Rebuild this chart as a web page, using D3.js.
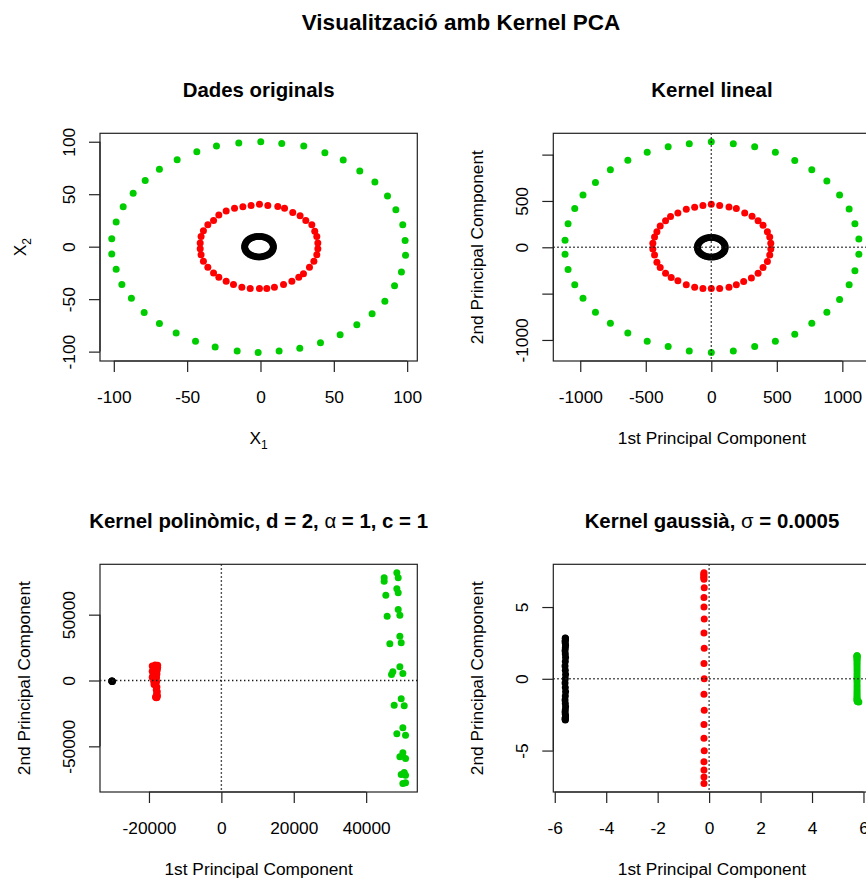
<!DOCTYPE html>
<html>
<head>
<meta charset="utf-8">
<script src="https://cdn.jsdelivr.net/npm/d3@7"></script>
<style>
  body { margin: 0; background: #fff; }
  svg { display: block; }
  text { font-family: "Liberation Sans", Arial, Helvetica, sans-serif; fill: #000; }
</style>
</head>
<body>
<svg id="chart" width="866" height="882"></svg>
<script>
// ---------- Data: original rings (x1, x2) ----------
const origGreen = [[0.2,100],[14.5,98.4],[29.5,95.9],[43.9,89.6],[56.4,82.6],[67.7,72.2],[78,61.7],[86.6,48.4],[92.3,35.1],[97,20.9],[98.6,6],[98.9,-8.2],[96.1,-24.1],[91.4,-37.3],[84.8,-51.9],[76.1,-63.9],[65.7,-74.4],[54.3,-83.9],[40.9,-91.5],[26.8,-96.8],[12.7,-99.4],[-1.6,-100.9],[-15.9,-99.4],[-30.9,-95.6],[-44.3,-90.2],[-57.5,-82.3],[-68.9,-73.1],[-79.3,-62.7],[-88,-49.1],[-94.5,-36.1],[-98.4,-21.5],[-101.4,-7],[-101.4,7.6],[-98.4,23.4],[-93.6,38],[-86.8,50.9],[-78.6,63],[-68.9,73.7],[-56.8,82.9],[-43.4,90.5],[-30,95.9],[-14.8,98.7]];
const origRed = [[-0.7,40.5],[5,39.2],[-6.4,39.2],[-12,38],[-17.7,36.7],[-23.4,33.9],[-28.4,30.1],[-32,25],[-35.9,20.9],[-38.9,15.2],[-40.5,9.8],[-41.1,3.5],[-41.1,-1.9],[-40.5,-7.6],[-38.9,-13.9],[-35.9,-19.6],[-32,-25],[-28.4,-29.1],[-23.4,-32.9],[-18.4,-36.1],[-12.7,-38.6],[-7,-39.9],[-0.7,-39.9],[4.3,-39.9],[9.5,-38.6],[15.7,-36.1],[21.4,-32.9],[26.1,-29.1],[29.3,-25.9],[33.4,-19.6],[36.4,-13.9],[38.4,-7.6],[39.1,-1.9],[39.1,3.5],[38.4,9.8],[37,14.6],[35,20.9],[30.9,25],[27,29.4],[22,32.6],[16.4,36.7],[11.8,38.3]];
const origBlack = [[8.8,0],[8.65,1.7],[8.21,3.35],[7.49,4.9],[6.51,6.3],[5.3,7.51],[3.9,8.49],[2.35,9.21],[0.7,9.65],[-1,9.8],[-2.7,9.65],[-4.35,9.21],[-5.9,8.49],[-7.3,7.51],[-8.51,6.3],[-9.49,4.9],[-10.21,3.35],[-10.65,1.7],[-10.8,0],[-10.65,-1.7],[-10.21,-3.35],[-9.49,-4.9],[-8.51,-6.3],[-7.3,-7.51],[-5.9,-8.49],[-4.35,-9.21],[-2.7,-9.65],[-1,-9.8],[0.7,-9.65],[2.35,-9.21],[3.9,-8.49],[5.3,-7.51],[6.51,-6.3],[7.49,-4.9],[8.21,-3.35],[8.65,-1.7]];

// ---------- Data: linear kernel projections (PC1, PC2) ----------
const linGreen = [[0,1139],[168,1118],[331,1086],[489,1025],[637,936],[767,836],[882,714],[979,564],[1052,414],[1096,254],[1126,89],[1126,-75],[1096,-254],[1052,-404],[979,-564],[882,-700],[767,-821],[637,-939],[489,-1014],[331,-1071],[168,-1118],[0,-1136],[-168,-1118],[-329,-1071],[-489,-1014],[-637,-925],[-770,-821],[-884,-700],[-979,-550],[-1042,-404],[-1093,-239],[-1116,-75],[-1116,75],[-1093,254],[-1042,418],[-979,564],[-884,700],[-770,836],[-637,939],[-489,1025],[-329,1086],[-168,1118]];
const linRed = [[0,464],[64,450],[-64,450],[-127,432],[-191,411],[-255,371],[-311,332],[-349,286],[-390,229],[-415,168],[-433,111],[-446,43],[-446,-18],[-433,-82],[-415,-161],[-390,-218],[-349,-279],[-306,-325],[-255,-361],[-191,-404],[-127,-432],[-64,-446],[0,-446],[64,-446],[135,-432],[191,-404],[247,-368],[306,-332],[357,-279],[395,-218],[428,-154],[446,-82],[454,-18],[454,43],[446,111],[428,168],[395,239],[357,286],[311,336],[255,371],[191,418],[135,436]];
const linBlack = [[106,0],[104.4,18.4],[99.6,36.3],[91.8,53],[81.2,68.1],[68.1,81.2],[53,91.8],[36.3,99.6],[18.4,104.4],[0,106],[-18.4,104.4],[-36.3,99.6],[-53,91.8],[-68.1,81.2],[-81.2,68.1],[-91.8,53],[-99.6,36.3],[-104.4,18.4],[-106,0],[-104.4,-18.4],[-99.6,-36.3],[-91.8,-53],[-81.2,-68.1],[-68.1,-81.2],[-53,-91.8],[-36.3,-99.6],[-18.4,-104.4],[0,-106],[18.4,-104.4],[36.3,-99.6],[53,-91.8],[68.1,-81.2],[81.2,-68.1],[91.8,-53],[99.6,-36.3],[104.4,-18.4]];

// ---------- Data: polynomial kernel projections ----------
const polyGreen = [[44970,78040],[44970,75460],[48480,81840],[48850,78040],[45430,64820],[48480,69680],[48850,66640],[45800,48860],[48850,53950],[49310,49620],[46540,27890],[49310,33660],[49680,28650],[47000,4560],[47370,6610],[49310,10410],[50140,5320],[47740,-18770],[49680,-13910],[50510,-19220],[48480,-40500],[50140,-35940],[50880,-41560],[49310,-57980],[50140,-54940],[50880,-59270],[49680,-71430],[50510,-69910],[50880,-71940],[50140,-78270],[50880,-77740]];
const polyRed = [[-19100,11000],[-18700,9500],[-19100,7000],[-18900,4000],[-18500,1500],[-18300,-1500],[-18100,-4000],[-18000,-7000],[-17900,-10000],[-17800,-13000],[-17600,11600],[-17700,8000],[-17800,5000],[-17900,2000],[-17900,-1000],[-17800,-5000],[-17700,-8500],[-17650,-11500],[-18400,10500],[-18200,-12500],[-18500,6000],[-18600,-3000],[-18000,-13100],[-17600,9800],[-19100,2500],[-18700,-500],[-18300,11800],[-18200,3000]];
const polyBlack = [[-30280,-600],[-30200,-300],[-30100,-800],[-30250,-400],[-30150,-500]];

// ---------- Data: gaussian kernel projections ----------
const gaussGreen = [[5.75,1.61],[5.75,1.6],[5.75,1.57],[5.75,1.52],[5.75,1.45],[5.75,1.36],[5.75,1.25],[5.75,1.12],[5.75,0.98],[5.75,0.82],[5.75,0.65],[5.75,0.47],[5.75,0.28],[5.75,0.1],[5.75,-0.1],[5.75,-0.28],[5.75,-0.47],[5.75,-0.65],[5.75,-0.82],[5.75,-0.98],[5.75,-1.12],[5.75,-1.25],[5.75,-1.36],[5.75,-1.45],[5.75,-1.52],[5.76,-1.57],[5.78,-1.6],[5.82,-1.62]];
const gaussRed = [[-0.2,7.39],[-0.21,7.28],[-0.2,7.16],[-0.21,7.05],[-0.2,6.93],[-0.19,6.35],[-0.2,5.66],[-0.2,5.01],[-0.19,4.16],[-0.2,3.19],[-0.19,2.12],[-0.2,1.06],[-0.19,0],[-0.2,-1.07],[-0.19,-2.2],[-0.2,-3.19],[-0.2,-4.14],[-0.19,-5.02],[-0.2,-5.78],[-0.2,-6.35],[-0.2,-6.84],[-0.2,-7.3]];
const gaussBlack = [[-5.59,2.85],[-5.59,2.83],[-5.58,2.78],[-5.59,2.7],[-5.6,2.6],[-5.59,2.47],[-5.58,2.32],[-5.59,2.15],[-5.6,1.95],[-5.59,1.72],[-5.58,1.48],[-5.59,1.2],[-5.6,0.9],[-5.59,0.6],[-5.58,0.3],[-5.59,0],[-5.6,-0.3],[-5.59,-0.6],[-5.58,-0.9],[-5.59,-1.2],[-5.6,-1.48],[-5.59,-1.72],[-5.58,-1.95],[-5.59,-2.15],[-5.6,-2.32],[-5.59,-2.47],[-5.58,-2.6],[-5.59,-2.7],[-5.6,-2.78],[-5.59,-2.83],[-5.59,-2.87]];

// ---------- Tick values ----------
const ticksOrigX = [-100, -50, 0, 50, 100];
const ticksOrigY = [-100, -50, 0, 50, 100];
const ticksLinX = [-1000, -500, 0, 500, 1000];
const ticksLinY = [-1000, -500, 0, 500, 1000];
const labelsLinY = [-1000, 0, 500];
const ticksPolyX = [-20000, 0, 20000, 40000];
const ticksPolyY = [-50000, 0, 50000];
const ticksGaussX = [-6, -4, -2, 0, 2, 4, 6];
const ticksGaussY = [-5, 0, 5];

// ---------- Layout ----------
const svg = d3.select("#chart");
const FONT = '"Liberation Sans", Arial, Helvetica, sans-serif';
const PW = 317.3, PH = 227.7;
const COL = { black: "#000000", red: "#FF0000", green: "#00CD00" };

// Axis limits padded by 4% of the data range on each side
function padded(values) {
  const [a, b] = d3.extent(values);
  const p = (b - a) * 0.04;
  return [a - p, b + p];
}

function panel(cfg) {
  const g = svg.append("g").attr("transform", `translate(${cfg.left},${cfg.top})`);
  const all = cfg.series.flatMap(s => s.data);
  const x = d3.scaleLinear().domain(padded(all.map(d => d[0]))).range([0, PW]);
  const y = d3.scaleLinear().domain(padded(all.map(d => d[1]))).range([PH, 0]);

  // points
  cfg.series.forEach(s => {
    g.append("g").selectAll("circle").data(s.data).join("circle")
      .attr("cx", d => x(d[0])).attr("cy", d => y(d[1]))
      .attr("r", 3.5).attr("fill", s.color);
  });

  // dotted reference lines through the origin
  if (cfg.cross) {
    const dot = { stroke: "#1a1a1a", "stroke-width": 1.4, "stroke-dasharray": "1.4,2.6" };
    const v = g.append("line").attr("x1", x(0)).attr("x2", x(0)).attr("y1", 0).attr("y2", PH);
    const h = g.append("line").attr("x1", 0).attr("x2", PW).attr("y1", y(0)).attr("y2", y(0));
    [v, h].forEach(l => Object.entries(dot).forEach(([k, val]) => l.attr(k, val)));
  }

  // box
  g.append("rect").attr("x", 0).attr("y", 0).attr("width", PW).attr("height", PH)
    .attr("fill", "none").attr("stroke", "#222").attr("stroke-width", 1.2);

  // x axis
  const gx = g.append("g").attr("transform", `translate(0,${PH})`)
    .call(d3.axisBottom(x).tickValues(cfg.xTicks).tickSize(11).tickFormat(v => String(v)));
  gx.attr("font-size", null).attr("font-family", null);
  gx.select(".domain").remove();
  gx.append("line").attr("x1", x(cfg.xTicks[0])).attr("x2", x(cfg.xTicks[cfg.xTicks.length - 1]))
    .attr("stroke", "#222").attr("stroke-width", 1.2);
  gx.selectAll(".tick line").attr("stroke", "#222").attr("stroke-width", 1.2);
  gx.selectAll(".tick text").attr("y", 41.7).attr("dy", null)
    .style("font-size", "17.3px").style("font-family", FONT).attr("fill", "#000");

  // y axis
  const shown = cfg.yLabels || cfg.yTicks;
  const gy = g.append("g")
    .call(d3.axisLeft(y).tickValues(cfg.yTicks).tickSize(11)
      .tickFormat(v => shown.includes(v) ? String(v) : ""));
  gy.attr("font-size", null).attr("font-family", null);
  gy.select(".domain").remove();
  gy.append("line").attr("y1", y(cfg.yTicks[0])).attr("y2", y(cfg.yTicks[cfg.yTicks.length - 1]))
    .attr("stroke", "#222").attr("stroke-width", 1.2);
  gy.selectAll(".tick line").attr("stroke", "#222").attr("stroke-width", 1.2);
  gy.selectAll(".tick text").attr("x", null).attr("dy", null)
    .attr("transform", "translate(-25.5,0) rotate(-90)").attr("text-anchor", "middle")
    .style("font-size", "17.3px").style("font-family", FONT).attr("fill", "#000");

  // panel title
  const t = g.append("text").attr("x", PW / 2).attr("y", -36).attr("text-anchor", "middle")
    .style("font-size", "20.4px").style("font-weight", "bold");
  cfg.title(t);

  // axis titles
  const xl = g.append("text").attr("x", PW / 2).attr("y", PH + 83).attr("text-anchor", "middle")
    .style("font-size", "17.3px");
  cfg.xlab(xl);
  const yl = g.append("text").attr("transform", `translate(${cfg.ylabOffset || -70},${PH / 2}) rotate(-90)`)
    .attr("text-anchor", "middle").style("font-size", "17.3px");
  cfg.ylab(yl);
}

const plain = s => t => t.text(s);
const subscripted = (base, sub) => t => {
  t.append("tspan").text(base);
  t.append("tspan").attr("dy", 5).style("font-size", "12px").text(sub);
};

// main title
svg.append("text").attr("x", 461).attr("y", 30).attr("text-anchor", "middle")
  .style("font-size", "22.5px").style("font-weight", "bold")
  .text("Visualització amb Kernel PCA");

panel({
  left: 100, top: 133.3,
  series: [{ data: origGreen, color: COL.green }, { data: origRed, color: COL.red }, { data: origBlack, color: COL.black }],
  xTicks: ticksOrigX, yTicks: ticksOrigY, cross: false,
  title: plain("Dades originals"),
  xlab: subscripted("X", "1"), ylab: subscripted("X", "2"), ylabOffset: -74
});

panel({
  left: 553.3, top: 133.3,
  series: [{ data: linGreen, color: COL.green }, { data: linRed, color: COL.red }, { data: linBlack, color: COL.black }],
  xTicks: ticksLinX, yTicks: ticksLinY, yLabels: labelsLinY, cross: true,
  title: plain("Kernel lineal"),
  xlab: plain("1st Principal Component"), ylab: plain("2nd Principal Component")
});

panel({
  left: 100, top: 564.3,
  series: [{ data: polyGreen, color: COL.green }, { data: polyRed, color: COL.red }, { data: polyBlack, color: COL.black }],
  xTicks: ticksPolyX, yTicks: ticksPolyY, cross: true,
  title: t => {
    t.append("tspan").text("Kernel polinòmic, d = 2, ");
    t.append("tspan").style("font-weight", "normal").text("α");
    t.append("tspan").text(" = 1, c = 1");
  },
  xlab: plain("1st Principal Component"), ylab: plain("2nd Principal Component")
});

panel({
  left: 553.3, top: 564.3,
  series: [{ data: gaussGreen, color: COL.green }, { data: gaussRed, color: COL.red }, { data: gaussBlack, color: COL.black }],
  xTicks: ticksGaussX, yTicks: ticksGaussY, cross: true,
  title: t => {
    t.append("tspan").text("Kernel gaussià, ");
    t.append("tspan").style("font-weight", "normal").text("σ");
    t.append("tspan").text(" = 0.0005");
  },
  xlab: plain("1st Principal Component"), ylab: plain("2nd Principal Component")
});
</script>
</body>
</html>
